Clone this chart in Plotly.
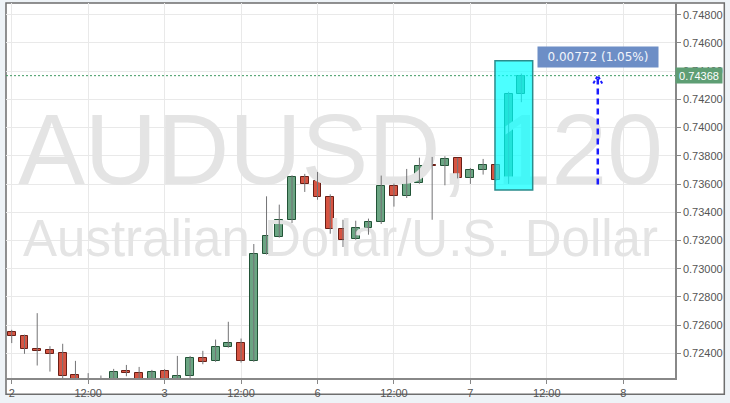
import plotly.graph_objects as go

# 2-hour AUDUSD candles, Jun 2 .. Jun 7 (weekend collapsed)
opens = [0.72548, 0.72526, 0.72434, 0.72423, 0.72402, 0.72250, 0.72215, 0.72195,
         0.72200, 0.72274, 0.72264, 0.72210, 0.72274, 0.72210, 0.72238, 0.72366,
         0.72345, 0.72446, 0.72477, 0.72347, 0.73104, 0.73227, 0.73342, 0.73650,
         0.73619, 0.73509, 0.73281, 0.73210, 0.73289, 0.73331, 0.73587, 0.73518,
         0.73608, 0.73738, 0.73726, 0.73782, 0.73643, 0.73697, 0.73733, 0.73626,
         0.74239]
highs = [0.72567, 0.72533, 0.72685, 0.72451, 0.72468, 0.72347, 0.72260, 0.72243,
         0.72290, 0.72318, 0.72304, 0.72283, 0.72288, 0.72382, 0.72382, 0.72418,
         0.72498, 0.72624, 0.72505, 0.73175, 0.73513, 0.73454, 0.73662, 0.73672,
         0.73686, 0.73527, 0.73347, 0.73340, 0.73355, 0.73660, 0.73603, 0.73707,
         0.73787, 0.73792, 0.73797, 0.73785, 0.73714, 0.73778, 0.73737, 0.74254,
         0.74383]
lows = [0.72473, 0.72397, 0.72314, 0.72271, 0.72215, 0.72190, 0.72170, 0.72160,
        0.72190, 0.72238, 0.72200, 0.72200, 0.72200, 0.72200, 0.72225, 0.72323,
        0.72340, 0.72440, 0.72335, 0.72340, 0.73100, 0.73220, 0.73324, 0.73544,
        0.73489, 0.73248, 0.73154, 0.73205, 0.73241, 0.73317, 0.73440, 0.73501,
        0.73602, 0.73347, 0.73591, 0.73640, 0.73601, 0.73667, 0.73620, 0.73601,
        0.74180]
closes = [0.72522, 0.72432, 0.72418, 0.72399, 0.72243, 0.72205, 0.72200, 0.72205,
          0.72271, 0.72260, 0.72215, 0.72269, 0.72215, 0.72243, 0.72366, 0.72342,
          0.72446, 0.72477, 0.72347, 0.73104, 0.73229, 0.73345, 0.73650, 0.73601,
          0.73509, 0.73281, 0.73205, 0.73289, 0.73328, 0.73587, 0.73518, 0.73608,
          0.73731, 0.73726, 0.73778, 0.73643, 0.73697, 0.73733, 0.73626, 0.74239,
          0.74368]

tick_pos = [0, 6, 12, 18, 24, 30, 36, 42, 48]
tick_text = ["2", "12:00", "3", "12:00", "6", "12:00", "7", "12:00", "8"]
price_ticks = [0.724, 0.726, 0.728, 0.730, 0.732, 0.734, 0.736, 0.738,
               0.740, 0.742, 0.744, 0.746, 0.748]

last_price = 0.74368
move_start = 0.73596
move_index = 46
box_x = (37.93, 40.89)
box_y = (0.73558, 0.74474)

GREEN, GREEN_EDGE = "#6ba583", "#225437"
RED, RED_EDGE = "#d75442", "#6b1f16"
X_RANGE = [-0.45, 52.06]
Y_RANGE = [0.722255, 0.74883]

idx = list(range(len(opens)))
up = [c >= o for o, c in zip(opens, closes)]

wick_x, wick_y = [], []
for i, lo, hi in zip(idx, lows, highs):
    wick_x += [i, i, None]
    wick_y += [lo, hi, None]

fig = go.Figure()

# watermark behind the candles
x_mid = sum(X_RANGE) / 2
fig.add_trace(go.Scatter(
    x=[x_mid, x_mid], y=[0.73778, 0.73178], mode="text",
    text=["AUDUSD, 120", "Australian Dollar/U.S. Dollar"],
    textfont=dict(family="Liberation Sans, Arial", size=[100, 51], color="#e4e4e4"),
    hoverinfo="skip", showlegend=False))

fig.add_trace(go.Scatter(x=wick_x, y=wick_y, mode="lines",
                         line=dict(color="#737375", width=1),
                         hoverinfo="skip", showlegend=False))

fig.add_trace(go.Bar(
    x=idx,
    base=[min(o, c) for o, c in zip(opens, closes)],
    y=[max(abs(c - o), 0.00002) for o, c in zip(opens, closes)],
    width=0.62,
    marker=dict(color=[GREEN if u else RED for u in up],
                line=dict(color=[GREEN_EDGE if u else RED_EDGE for u in up], width=1)),
    showlegend=False))

# measuring arrow
fig.add_trace(go.Scatter(x=[move_index, move_index], y=[move_start, last_price - 0.0001],
                         mode="lines", line=dict(color="#1a1aff", width=2.5, dash="6px,4px"),
                         hoverinfo="skip", showlegend=False))
fig.add_trace(go.Scatter(x=[move_index - 0.35, move_index, move_index + 0.35],
                         y=[last_price - 0.00055, last_price, last_price - 0.00055],
                         mode="lines", line=dict(color="#1a1aff", width=2, dash="3px,2px"),
                         hoverinfo="skip", showlegend=False))

fig.add_shape(type="rect", xref="paper", yref="paper", x0=0, x1=1.0737, y0=-0.0435, y1=1,
              fillcolor="white", line=dict(color="#6e6e6e", width=1.5), layer="below")
fig.add_shape(type="line", xref="paper", x0=0, x1=1, y0=last_price, y1=last_price,
              line=dict(color="#3f9a62", width=1, dash="2px,2px"))
fig.add_shape(type="rect", x0=box_x[0], x1=box_x[1], y0=box_y[0], y1=box_y[1],
              fillcolor="rgba(0,255,255,0.7)", line=dict(color="#2a8c8c", width=1.5))

change = last_price - move_start
fig.add_annotation(x=move_index, y=0.74502, text=f"{change:.5f} ({change / move_start * 100:.2f}%)",
                   showarrow=False, bgcolor="#6d8ec6", width=116, height=16, borderpad=2,
                   font=dict(family="DejaVu Sans", size=12, color="#f2f5fb"))
fig.add_annotation(xref="paper", x=1, y=last_price, xanchor="left", text=f"{last_price:.5f}",
                   showarrow=False, bgcolor="#5e9e74", width=44, height=13, borderpad=1,
                   font=dict(family="Liberation Sans, Arial", size=11, color="white"))

fig.update_layout(
    width=730, height=403,
    margin=dict(l=6, r=55, t=3, b=25),
    paper_bgcolor="#eef3f7", plot_bgcolor="rgba(0,0,0,0)",
    bargap=0, showlegend=False,
    font=dict(family="Liberation Sans, Arial", size=11, color="#555555"),
    xaxis=dict(range=X_RANGE, tickvals=tick_pos, ticktext=tick_text,
               showgrid=True, gridcolor="#e9e9e9", gridwidth=1, zeroline=False,
               showline=True, linecolor="#888888", linewidth=1.5,
               ticks="outside", ticklen=4, tickcolor="#888888"),
    yaxis=dict(range=Y_RANGE, side="right", tickvals=price_ticks, tickformat=".5f",
               showgrid=True, gridcolor="#e9e9e9", gridwidth=1, zeroline=False,
               showline=True, linecolor="#888888", linewidth=1.5,
               ticks="outside", ticklen=4, tickcolor="#888888"),
)

# drop the default page margin so the figure sits at the window origin
fig.write_html("out.html", config={"displayModeBar": False},
               post_script="document.body.style.margin='0';")
